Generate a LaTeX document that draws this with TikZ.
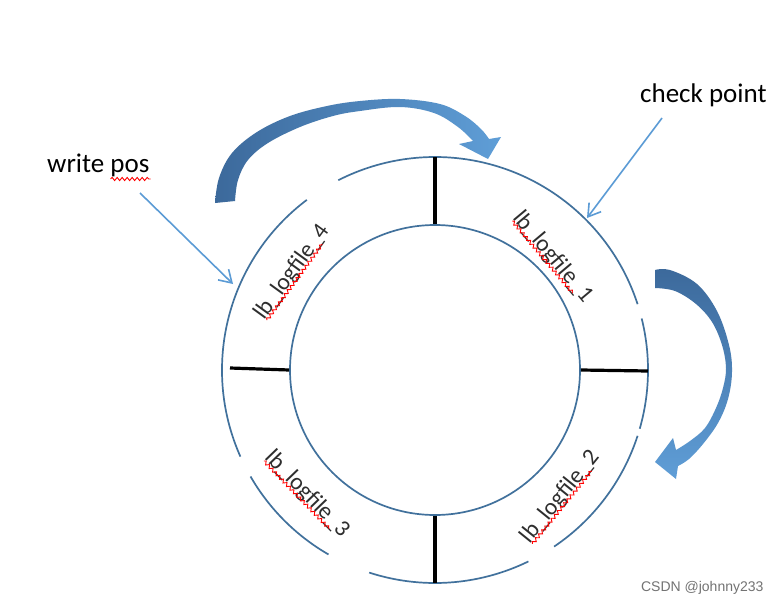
\documentclass[tikz,border=0pt]{standalone}
\usepackage{fontspec}
\setmainfont{Carlito}
\newfontfamily\wmfont{Liberation Sans}
\usetikzlibrary{arrows.meta,calc,decorations.pathmorphing}
\definecolor{ringblue}{RGB}{65,113,156}
\definecolor{arrdark}{RGB}{60,105,155}
\definecolor{arrlight}{RGB}{95,158,215}
\definecolor{ptrblue}{RGB}{91,155,213}
\begin{document}
\begin{tikzpicture}[x=1pt,y=-1pt,
  ring/.style={draw=ringblue, line width=1.7pt},
  divider/.style={draw=black, line width=3.2pt},
  lbl/.style={font=\fontsize{23.5}{28}\selectfont, text=black!82, inner sep=0pt},
  callout/.style={font=\fontsize{27}{32}\selectfont, text=black, inner sep=0pt},
  pointer/.style={draw=ptrblue, line width=1.6pt, -{Straight Barb[length=12pt,width=15pt]}},
  squig/.style={draw=red, line width=0.9pt, decorate, decoration={snake, amplitude=1.6pt, segment length=5pt}}
]
\useasboundingbox[fill=white] (0,0) rectangle (782,605);

% big curved arrows
\shade[left color=arrdark, right color=arrlight]
  plot[smooth, tension=0.6] coordinates {(215,203) (219,178) (232,153) (257,132) (290,116) (327,106) (360,101) (400,99) (440,104) (465,116) (481,129) (489,139)}
  -- (501,137) -- (488,159) -- (459,144)
  -- plot[smooth, tension=0.6] coordinates {(473,141) (458,127) (434,113) (400,107) (360,111) (333,116) (300,127) (268,143) (248,160) (238,180) (235,201)}
  -- cycle;
\shade[top color=arrdark, bottom color=arrlight]
  plot[smooth, tension=0.6] coordinates {(655,270) (670,270) (697,284) (717,311) (729,345) (732,372) (728,399) (718,423) (703,444) (689,459) (678,466)}
  -- (676,479) -- (655,462) -- (673,438)
  -- plot[smooth, tension=0.6] coordinates {(676,450) (690,441) (705,428) (716,408) (723,388) (726,368) (722,345) (712,322) (696,304) (675,291) (655,288)}
  -- cycle;

% rings
\coordinate (c) at (435,370);
\node[ring, circle, minimum size=290pt, inner sep=0pt] (inner) at (c) {};
\foreach \a/\b in {18/117, 127/204, 210/240, 252/296, 304/342, 344/374}
  \draw[ring] (c) ++(-\a:213) arc[start angle=-\a, end angle=-\b, radius=213];

% dividers
\coordinate (otop) at ($(c)+(0,-213)$);
\coordinate (obot) at ($(c)+(0,213)$);
\coordinate (oleft) at ($(c)+(-205,-2)$);
\coordinate (oright) at ($(c)+(213,1)$);
\draw[divider] (inner.north) -- (otop);
\draw[divider] (inner.south) -- (obot);
\draw[divider] (inner.west) -- (oleft);
\draw[divider] (inner.east) -- (oright);

% segment labels
\node[lbl, rotate=54] (l4) at (292,272) {lb\_logfile\_4};
\node[lbl, rotate=-50] (l1) at (553,257) {lb\_logfile\_1};
\node[lbl, rotate=51] (l2) at (560,497) {lb\_logfile\_2};
\node[lbl, rotate=-46] (l3) at (307,494) {lb\_logfile\_3};
\foreach \n in {l1,l2,l3,l4} {
  \coordinate (s1) at ($(\n.base west)!0.45!(\n.south west)$);
  \coordinate (s2) at ($(\n.base east)!0.45!(\n.south east)$);
  \draw[squig] ($(s1)!0.02!(s2)$) -- ($(s1)!0.86!(s2)$);
}

% callouts
\node[callout, anchor=base west] (wp) at (47,172) {write pos};
\node[callout, anchor=base west] (cp) at (640,102) {check point};
\draw[squig] ($(wp.base east)+(-39,7)$) -- ($(wp.base east)+(1,7)$);
\coordinate (wps) at (140,193);
\coordinate (wpt) at (233,284);
\coordinate (cps) at (662,118);
\coordinate (cpt) at (587,218);
\draw[pointer] (wps) -- (wpt);
\draw[pointer] (cps) -- (cpt);

% watermark
\node[font=\wmfont\fontsize{14}{16}\selectfont, text=black!55, anchor=east] (wm) at (767,588) {CSDN @johnny233};
\end{tikzpicture}
\end{document}
